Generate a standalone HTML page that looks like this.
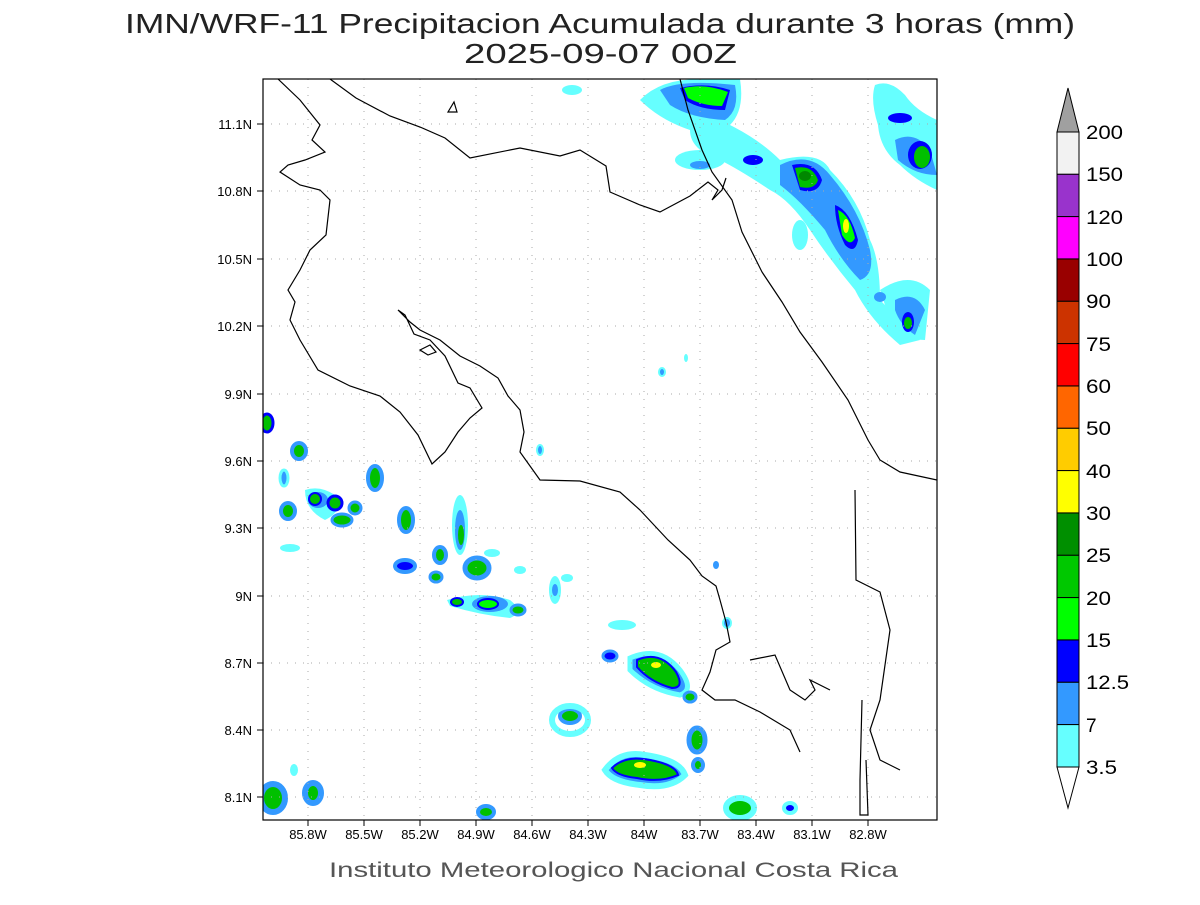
<!DOCTYPE html>
<html><head><meta charset="utf-8"><style>
body{margin:0;background:#fff;width:1200px;height:900px;overflow:hidden}
text{font-family:"Liberation Sans",sans-serif}
</style></head><body>
<svg width="1200" height="900" viewBox="0 0 1200 900" xmlns="http://www.w3.org/2000/svg">
<rect width="1200" height="900" fill="#fff"/>
<text x="125" y="33" font-size="28" textLength="950" lengthAdjust="spacingAndGlyphs" fill="#222">IMN/WRF-11 Precipitacion Acumulada durante 3 horas (mm)</text>
<text x="464" y="63" font-size="28" textLength="273" lengthAdjust="spacingAndGlyphs" fill="#222">2025-09-07 00Z</text>
<defs><clipPath id="c"><rect x="263" y="79" width="674" height="741"/></clipPath></defs>
<g clip-path="url(#c)">
<g id="blobs">
<path d="M640,100 Q660,79 700,79 L740,79 Q745,110 730,125 Q760,140 780,160 Q820,150 830,170 Q860,200 870,240 Q880,260 880,300 Q900,320 920,340 L900,345 Q870,320 855,290 Q830,260 810,230 Q790,200 770,190 Q740,170 720,160 Q690,150 690,130 Q660,120 640,100Z" fill="#66ffff"/>
<path d="M875,85 Q890,79 905,95 Q915,110 937,120 L937,190 Q915,180 900,165 Q880,150 878,125 Q870,100 875,85Z" fill="#66ffff"/>
<path d="M880,290 Q910,270 930,290 L925,340 Q905,340 890,320Z" fill="#66ffff"/>
<path d="M660,90 Q680,79 735,85 Q740,110 725,120 Q690,118 670,105Z" fill="#3399ff"/>
<path d="M780,165 Q810,150 830,175 Q860,210 870,250 Q875,275 860,280 Q840,260 825,230 Q800,200 780,185Z" fill="#3399ff"/>
<path d="M895,140 Q915,130 930,150 L937,175 Q915,175 898,160Z" fill="#3399ff"/>
<path d="M895,300 Q915,290 925,310 L915,335 Q900,325 895,310Z" fill="#3399ff"/>
<path d="M680,88 Q705,82 730,90 L725,110 Q700,110 685,100Z" fill="#0000ff"/>
<path d="M792,165 Q815,160 822,180 Q818,195 800,190Z" fill="#0000ff"/>
<path d="M835,205 Q850,210 858,240 Q855,255 845,245 Q835,225 835,205Z" fill="#0000ff"/>
<ellipse cx="920" cy="155" rx="12" ry="14" fill="#0000ff"/>
<ellipse cx="908" cy="322" rx="6" ry="10" fill="#0000ff"/>
<ellipse cx="900" cy="118" rx="12" ry="5" fill="#0000ff"/>
<path d="M684,88 Q705,83 728,92 L722,106 Q703,106 688,98Z" fill="#00ff00"/>
<path d="M795,168 Q812,164 818,180 Q815,190 800,187Z" fill="#00c000"/>
<ellipse cx="805" cy="176" rx="6" ry="5" fill="#008800"/>
<path d="M838,210 Q850,215 855,238 Q850,248 842,235Z" fill="#00ff00"/>
<ellipse cx="846" cy="226" rx="3" ry="7" fill="#ffff00"/>
<ellipse cx="922" cy="157" rx="8" ry="11" fill="#00c000"/>
<ellipse cx="908" cy="323" rx="4" ry="6" fill="#00c000"/>
<ellipse cx="880" cy="297" rx="6" ry="5" fill="#3399ff"/>
<ellipse cx="700" cy="160" rx="25" ry="10" fill="#66ffff"/>
<ellipse cx="753" cy="160" rx="10" ry="5" fill="#0000ff"/>
<ellipse cx="700" cy="165" rx="10" ry="4" fill="#3399ff"/>
<ellipse cx="800" cy="235" rx="8" ry="15" fill="#66ffff"/>
<ellipse cx="572" cy="90" rx="10" ry="5" fill="#66ffff"/>
<ellipse cx="267" cy="423" rx="6" ry="9" fill="#00c000" stroke="#0000ff" stroke-width="3"/>
<ellipse cx="299" cy="451" rx="7" ry="8" fill="#00c000" stroke="#3399ff" stroke-width="4"/>
<ellipse cx="284" cy="478" rx="4" ry="8" fill="#3399ff" stroke="#66ffff" stroke-width="3"/>
<ellipse cx="288" cy="511" rx="7" ry="8" fill="#00c000" stroke="#3399ff" stroke-width="4"/>
<path d="M305,490 Q320,485 335,495 Q345,510 325,520 Q305,510 305,490Z" fill="#66ffff"/>
<ellipse cx="318" cy="500" rx="10" ry="8" fill="#3399ff"/>
<ellipse cx="315" cy="499" rx="6" ry="6" fill="#00c000" stroke="#0000ff" stroke-width="2"/>
<ellipse cx="335" cy="503" rx="7" ry="7" fill="#00c000" stroke="#0000ff" stroke-width="3"/>
<ellipse cx="355" cy="508" rx="6" ry="6" fill="#00c000" stroke="#3399ff" stroke-width="3"/>
<ellipse cx="342" cy="520" rx="10" ry="6" fill="#00c000" stroke="#3399ff" stroke-width="3"/>
<ellipse cx="375" cy="478" rx="7" ry="12" fill="#00c000" stroke="#3399ff" stroke-width="4"/>
<ellipse cx="290" cy="548" rx="10" ry="4" fill="#66ffff"/>
<ellipse cx="406" cy="520" rx="7" ry="12" fill="#00c000" stroke="#3399ff" stroke-width="4"/>
<ellipse cx="405" cy="566" rx="10" ry="6" fill="#0000ff" stroke="#3399ff" stroke-width="4"/>
<ellipse cx="460" cy="525" rx="8" ry="30" fill="#66ffff"/>
<ellipse cx="460" cy="530" rx="5" ry="20" fill="#3399ff"/>
<ellipse cx="461" cy="535" rx="3" ry="10" fill="#00c000"/>
<ellipse cx="440" cy="555" rx="6" ry="8" fill="#00c000" stroke="#3399ff" stroke-width="4"/>
<ellipse cx="477" cy="568" rx="12" ry="10" fill="#00c000" stroke="#3399ff" stroke-width="5"/>
<ellipse cx="436" cy="577" rx="6" ry="5" fill="#00c000" stroke="#3399ff" stroke-width="3"/>
<path d="M447,600 Q480,590 510,600 Q525,612 510,618 Q480,615 450,606Z" fill="#66ffff"/>
<ellipse cx="490" cy="604" rx="18" ry="8" fill="#3399ff"/>
<ellipse cx="488" cy="604" rx="10" ry="5" fill="#00ff00" stroke="#0000ff" stroke-width="2"/>
<ellipse cx="457" cy="602" rx="6" ry="4" fill="#00c000" stroke="#0000ff" stroke-width="2"/>
<ellipse cx="518" cy="610" rx="7" ry="5" fill="#00c000" stroke="#3399ff" stroke-width="3"/>
<ellipse cx="492" cy="553" rx="8" ry="4" fill="#66ffff"/>
<ellipse cx="520" cy="570" rx="6" ry="4" fill="#66ffff"/>
<ellipse cx="555" cy="590" rx="6" ry="14" fill="#66ffff"/>
<ellipse cx="555" cy="590" rx="3" ry="6" fill="#3399ff"/>
<ellipse cx="567" cy="578" rx="6" ry="4" fill="#66ffff"/>
<ellipse cx="540" cy="450" rx="3" ry="5" fill="#3399ff" stroke="#66ffff" stroke-width="2"/>
<ellipse cx="610" cy="656" rx="7" ry="5" fill="#0000ff" stroke="#3399ff" stroke-width="3"/>
<path d="M630,658 Q660,645 680,670 Q695,690 680,695 Q650,690 630,670Z" fill="#3399ff" stroke="#66ffff" stroke-width="5"/>
<path d="M637,660 Q660,650 676,672 Q685,688 672,688 Q650,682 637,667Z" fill="#00c000" stroke="#0000ff" stroke-width="2"/>
<ellipse cx="656" cy="665" rx="5" ry="3" fill="#ffff00"/>
<ellipse cx="690" cy="697" rx="6" ry="5" fill="#00c000" stroke="#3399ff" stroke-width="3"/>
<ellipse cx="622" cy="625" rx="14" ry="5" fill="#66ffff"/>
<ellipse cx="570" cy="716" rx="10" ry="7" fill="#00c000" stroke="#3399ff" stroke-width="4"/>
<ellipse cx="570" cy="720" rx="18" ry="14" fill="none" stroke="#66ffff" stroke-width="6"/>
<path d="M605,770 Q620,750 645,755 Q680,760 685,775 Q670,790 640,785 Q612,782 605,770Z" fill="#3399ff" stroke="#66ffff" stroke-width="6"/>
<path d="M612,768 Q625,755 650,760 Q676,765 678,775 Q660,783 637,778 Q617,776 612,768Z" fill="#00c000" stroke="#0000ff" stroke-width="2"/>
<ellipse cx="640" cy="765" rx="6" ry="3" fill="#ffff00"/>
<ellipse cx="697" cy="740" rx="8" ry="12" fill="#00c000" stroke="#3399ff" stroke-width="5"/>
<ellipse cx="698" cy="765" rx="5" ry="6" fill="#00c000" stroke="#3399ff" stroke-width="4"/>
<ellipse cx="740" cy="808" rx="14" ry="10" fill="#00c000" stroke="#66ffff" stroke-width="6"/>
<ellipse cx="790" cy="808" rx="6" ry="5" fill="#0000ff" stroke="#66ffff" stroke-width="4"/>
<ellipse cx="486" cy="812" rx="8" ry="6" fill="#00c000" stroke="#3399ff" stroke-width="4"/>
<ellipse cx="273" cy="798" rx="12" ry="14" fill="#00c000" stroke="#3399ff" stroke-width="6"/>
<ellipse cx="313" cy="793" rx="8" ry="10" fill="#00c000" stroke="#3399ff" stroke-width="6"/>
<ellipse cx="294" cy="770" rx="4" ry="6" fill="#66ffff"/>
<ellipse cx="662" cy="372" rx="3" ry="4" fill="#3399ff" stroke="#66ffff" stroke-width="2"/>
<ellipse cx="686" cy="358" rx="2" ry="4" fill="#66ffff"/>
<ellipse cx="716" cy="565" rx="3" ry="4" fill="#3399ff"/>
<ellipse cx="727" cy="623" rx="4" ry="5" fill="#3399ff" stroke="#66ffff" stroke-width="2"/>
</g>
</g>
<g stroke="#aaa" stroke-width="1" stroke-dasharray="1,7">
<line x1="308" y1="79" x2="308" y2="820"/><line x1="364" y1="79" x2="364" y2="820"/><line x1="420" y1="79" x2="420" y2="820"/><line x1="476" y1="79" x2="476" y2="820"/><line x1="532" y1="79" x2="532" y2="820"/><line x1="588" y1="79" x2="588" y2="820"/><line x1="644" y1="79" x2="644" y2="820"/><line x1="700" y1="79" x2="700" y2="820"/><line x1="756" y1="79" x2="756" y2="820"/><line x1="812" y1="79" x2="812" y2="820"/><line x1="868" y1="79" x2="868" y2="820"/>
<line x1="263" y1="124" x2="937" y2="124"/><line x1="263" y1="191" x2="937" y2="191"/><line x1="263" y1="259" x2="937" y2="259"/><line x1="263" y1="326" x2="937" y2="326"/><line x1="263" y1="394" x2="937" y2="394"/><line x1="263" y1="461" x2="937" y2="461"/><line x1="263" y1="528" x2="937" y2="528"/><line x1="263" y1="596" x2="937" y2="596"/><line x1="263" y1="663" x2="937" y2="663"/><line x1="263" y1="730" x2="937" y2="730"/><line x1="263" y1="797" x2="937" y2="797"/>
</g>
<g fill="none" stroke="#000" stroke-width="1.2" clip-path="url(#c)">
<path d="M278,79 L300,100 L320,125 L312,140 L325,152 L305,160 L288,165 L280,172 L300,185 L320,190 L330,200 L326,235 L310,250 L300,270 L288,290 L295,302 L290,320 L300,340 L318,370 L350,386 L380,396 L400,412 L418,435 L432,464 L445,452 L458,432 L470,418 L482,408 L470,388 L458,383 L445,356 L430,340 L414,334 L405,315 L398,310 L410,322 L420,330 L440,340 L460,356 L480,366 L498,378 L508,396 L520,410 L524,432 L520,452 L540,480 L580,481 L620,492 L640,510 L668,540 L690,560 L702,576 L716,586 L720,600 L726,622 L730,642 L716,650 L710,672 L702,690 L715,700 L735,700 L760,712 L790,730 L800,752"/>
<path d="M330,79 L356,98 L390,116 L420,127 L445,138 L470,158 L520,148 L560,156 L580,150 L606,166 L610,192 L640,205 L660,212 L690,196 L708,182 L718,190 L712,200 L722,190 L726,178"/>
<path d="M680,79 L688,110 L702,150 L712,172 L732,200 L742,232 L762,272 L782,302 L800,332 L822,362 L848,400 L868,440 L880,460 L900,472 L937,480"/>
<path d="M855,490 L856,580 L880,592 L890,630 L880,700 L870,730 L880,760 L900,770"/>
<path d="M750,660 L775,655 L790,690 L805,700 L815,690 L810,680 L830,690"/>
<path d="M862,700 L860,780 L860,815 L868,815 L866,760"/>
<path d="M420,350 L430,345 L436,352 L428,355Z"/>
<path d="M448,112 L454,102 L457,112Z"/>
</g>
<rect x="263" y="79" width="674" height="741" fill="none" stroke="#000" stroke-width="1.2"/>
<g stroke="#000" stroke-width="1">
<line x1="308" y1="820" x2="308" y2="826"/><line x1="364" y1="820" x2="364" y2="826"/><line x1="420" y1="820" x2="420" y2="826"/><line x1="476" y1="820" x2="476" y2="826"/><line x1="532" y1="820" x2="532" y2="826"/><line x1="588" y1="820" x2="588" y2="826"/><line x1="644" y1="820" x2="644" y2="826"/><line x1="700" y1="820" x2="700" y2="826"/><line x1="756" y1="820" x2="756" y2="826"/><line x1="812" y1="820" x2="812" y2="826"/><line x1="868" y1="820" x2="868" y2="826"/>
<line x1="257" y1="124" x2="263" y2="124"/><line x1="257" y1="191" x2="263" y2="191"/><line x1="257" y1="259" x2="263" y2="259"/><line x1="257" y1="326" x2="263" y2="326"/><line x1="257" y1="394" x2="263" y2="394"/><line x1="257" y1="461" x2="263" y2="461"/><line x1="257" y1="528" x2="263" y2="528"/><line x1="257" y1="596" x2="263" y2="596"/><line x1="257" y1="663" x2="263" y2="663"/><line x1="257" y1="730" x2="263" y2="730"/><line x1="257" y1="797" x2="263" y2="797"/>
</g>
<g font-size="13" text-anchor="middle" fill="#000">
<text x="308" y="839">85.8W</text><text x="364" y="839">85.5W</text><text x="420" y="839">85.2W</text><text x="476" y="839">84.9W</text><text x="532" y="839">84.6W</text><text x="588" y="839">84.3W</text><text x="644" y="839">84W</text><text x="700" y="839">83.7W</text><text x="756" y="839">83.4W</text><text x="812" y="839">83.1W</text><text x="868" y="839">82.8W</text>
</g>
<g font-size="13" text-anchor="end" fill="#000">
<text x="252" y="129">11.1N</text><text x="252" y="196">10.8N</text><text x="252" y="264">10.5N</text><text x="252" y="331">10.2N</text><text x="252" y="399">9.9N</text><text x="252" y="466">9.6N</text><text x="252" y="533">9.3N</text><text x="252" y="601">9N</text><text x="252" y="668">8.7N</text><text x="252" y="735">8.4N</text><text x="252" y="802">8.1N</text>
</g>
<text x="329" y="877" font-size="21" textLength="569" lengthAdjust="spacingAndGlyphs" fill="#555">Instituto Meteorologico Nacional Costa Rica</text>
<g stroke="#000" stroke-width="1">
<polygon points="1057,132 1079,132 1068,88" fill="#a0a0a0"/>
<rect x="1057" y="132" width="22" height="42.3" fill="#f2f2f2"/>
<rect x="1057" y="174.3" width="22" height="42.3" fill="#9933cc"/>
<rect x="1057" y="216.6" width="22" height="42.3" fill="#ff00ff"/>
<rect x="1057" y="259" width="22" height="42.3" fill="#990000"/>
<rect x="1057" y="301.3" width="22" height="42.3" fill="#cc3300"/>
<rect x="1057" y="343.6" width="22" height="42.3" fill="#ff0000"/>
<rect x="1057" y="386" width="22" height="42.3" fill="#ff6600"/>
<rect x="1057" y="428.3" width="22" height="42.3" fill="#ffcc00"/>
<rect x="1057" y="470.6" width="22" height="42.3" fill="#ffff00"/>
<rect x="1057" y="513" width="22" height="42.3" fill="#008f00"/>
<rect x="1057" y="555.3" width="22" height="42.3" fill="#00c800"/>
<rect x="1057" y="597.6" width="22" height="42.3" fill="#00ff00"/>
<rect x="1057" y="640" width="22" height="42.3" fill="#0000ff"/>
<rect x="1057" y="682.3" width="22" height="42.3" fill="#3399ff"/>
<rect x="1057" y="724.6" width="22" height="42.4" fill="#66ffff"/>
<polygon points="1057,767 1079,767 1068,808" fill="#fff"/>
</g>
<g font-size="19" fill="#000">
<text x="1086" y="139" textLength="37" lengthAdjust="spacingAndGlyphs">200</text><text x="1086" y="181" textLength="37" lengthAdjust="spacingAndGlyphs">150</text><text x="1086" y="224" textLength="37" lengthAdjust="spacingAndGlyphs">120</text><text x="1086" y="266" textLength="37" lengthAdjust="spacingAndGlyphs">100</text><text x="1086" y="308" textLength="25" lengthAdjust="spacingAndGlyphs">90</text><text x="1086" y="351" textLength="25" lengthAdjust="spacingAndGlyphs">75</text><text x="1086" y="393" textLength="25" lengthAdjust="spacingAndGlyphs">60</text><text x="1086" y="435" textLength="25" lengthAdjust="spacingAndGlyphs">50</text><text x="1086" y="478" textLength="25" lengthAdjust="spacingAndGlyphs">40</text><text x="1086" y="520" textLength="25" lengthAdjust="spacingAndGlyphs">30</text><text x="1086" y="562" textLength="25" lengthAdjust="spacingAndGlyphs">25</text><text x="1086" y="605" textLength="25" lengthAdjust="spacingAndGlyphs">20</text><text x="1086" y="647" textLength="25" lengthAdjust="spacingAndGlyphs">15</text><text x="1086" y="689" textLength="43" lengthAdjust="spacingAndGlyphs">12.5</text><text x="1086" y="732">7</text><text x="1086" y="774" textLength="31" lengthAdjust="spacingAndGlyphs">3.5</text>
</g>
</svg>
</body></html>
